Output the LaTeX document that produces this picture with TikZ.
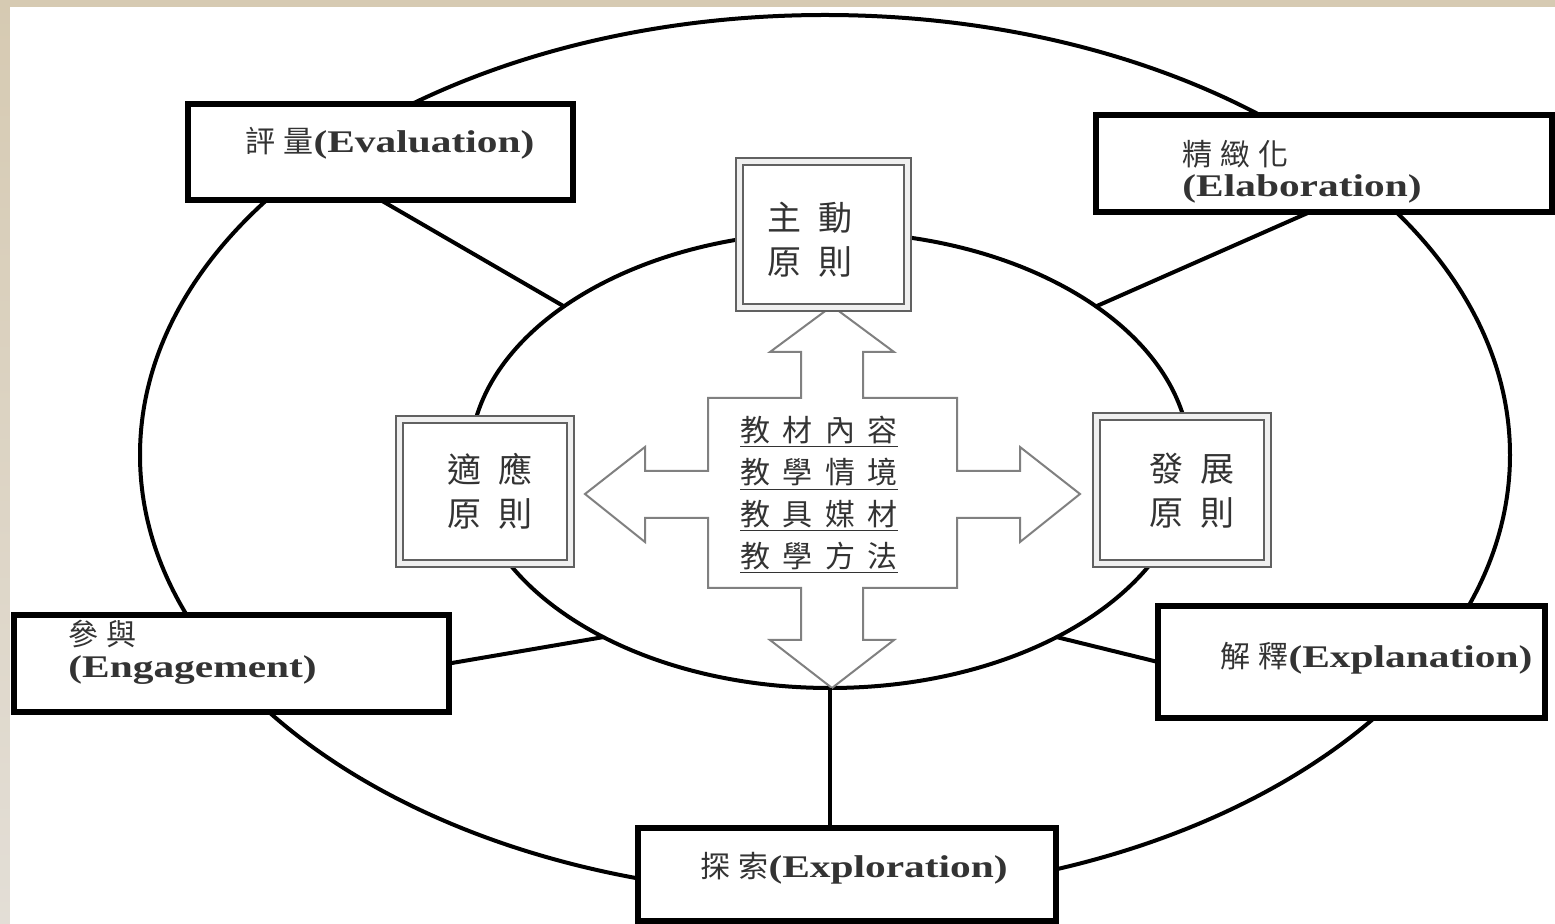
\documentclass[tikz,border=0pt]{standalone}
\usepackage{graphicx}
\usepackage{fontspec}
\setmainfont{Liberation Serif}
\newfontfamily\cjklbl[LetterSpace=27]{Noto Sans CJK TC}
\newfontfamily\cjkbig[LetterSpace=50]{Noto Sans CJK TC}
\newfontfamily\cjkmid[LetterSpace=42]{Noto Sans CJK TC}
\usetikzlibrary{shapes.geometric}
\newcommand{\entxt}[1]{\scalebox{1.38}[1.05]{\bfseries #1}}
\definecolor{paperA}{HTML}{D6CAB2}
\definecolor{paperB}{HTML}{E3DED6}
\definecolor{txtgray}{HTML}{333333}
\tikzset{
  ring/.style={ellipse, draw=black, line width=2pt, inner sep=0pt, outer sep=0pt},
  box/.style={rectangle, draw=black, line width=2.6pt, fill=white, inner sep=0pt, outer sep=0pt},
  dbox/.style={rectangle, draw=black!62, double=black!6, line width=1.3pt, double distance=2.2pt, fill=white, inner sep=0pt, outer sep=0pt},
  link/.style={draw=black, line width=2pt},
  crossarrow/.style={draw=black!50, line width=1pt, fill=white, line join=miter},
  lbl/.style={inner sep=0pt, text=txtgray, anchor=west, align=left, font=\fontsize{15pt}{16pt}\selectfont},
  principle/.style={inner sep=0pt, text=txtgray, align=center, font=\fontsize{17pt}{22pt}\cjkbig},
  content/.style={inner sep=0pt, text=txtgray, align=center, font=\fontsize{15pt}{21pt}\cjkmid}
}
\begin{document}
\begin{tikzpicture}[x=0.5pt,y=-0.5pt]
\useasboundingbox (0,0) rectangle (1555,924);
\shade[top color=paperA, bottom color=paperB] (0,0) rectangle (1555,924);
\fill[white] (10,7) rectangle (1555,924);

% ellipses
\node[ring, minimum width=685pt, minimum height=440pt] (outer) at (825,455) {};
\node[ring, minimum width=360pt, minimum height=228pt] (inner) at (830,460) {};

% central cross arrow
\draw[crossarrow] (832,306) -- (894,352) -- (863,352) -- (863,398) -- (957,398) -- (957,471)
  -- (1020,471) -- (1020,447) -- (1080,494) -- (1020,542) -- (1020,518) -- (957,518)
  -- (957,588) -- (863,588) -- (863,640) -- (894,640) -- (832,688) -- (770,640) -- (801,640)
  -- (801,588) -- (708,588) -- (708,518) -- (645,518) -- (645,542) -- (585,494) -- (645,447)
  -- (645,471) -- (708,471) -- (708,398) -- (801,398) -- (801,352) -- (770,352) -- cycle;

% outer boxes
\node[box, minimum width=192.5pt, minimum height=48pt] (eval) at (380.5,152) {};
\node[box, minimum width=228pt, minimum height=48.5pt] (elab) at (1324,163.5) {};
\node[box, minimum width=217.5pt, minimum height=48.5pt] (engage) at (231.5,663.5) {};
\node[box, minimum width=193.5pt, minimum height=56pt] (expl) at (1351.5,662) {};
\node[box, minimum width=209pt, minimum height=46.5pt] (explo) at (847,874.5) {};

% principle boxes
\node[dbox, minimum width=84pt, minimum height=73pt] (act) at (823.5,234.5) {};
\node[dbox, minimum width=85.5pt, minimum height=72pt] (adapt) at (485,491.5) {};
\node[dbox, minimum width=85.5pt, minimum height=73.5pt] (dev) at (1182,490) {};

% connectors
\draw[link] (eval.south) -- (inner.150);
\draw[link] ([xshift=-7pt]elab.south) -- (inner.30);
\draw[link] (engage.east) -- (inner.218);
\draw[link] (expl.west) -- (inner.-38);
\draw[link] (inner.south) -- (inner.south |- explo.north);

% labels
\node[lbl] (evalt) at (245,143) {{\cjklbl 評量}\entxt{(Evaluation)}};
\node[lbl, font=\fontsize{15pt}{15.5pt}\selectfont] (elabt) at (1182,172) {{\cjklbl 精緻化}\\\entxt{(Elaboration)}};
\node[lbl, font=\fontsize{15pt}{16pt}\selectfont] (engaget) at (68,652) {{\cjklbl 參與}\\\entxt{(Engagement)}};
\node[lbl] (explt) at (1220,658) {{\cjklbl 解釋}\entxt{(Explanation)}};
\node[lbl] (explot) at (700,868) {{\cjklbl 探索}\entxt{(Exploration)}};

\node[principle] (actt) at (810,240) {主動\\原則};
\node[principle] (adaptt) at (490,491) {適應\\原則};
\node[principle] (devt) at (1192,491) {發展\\原則};

\node[content] (ctext) at (819,495) {\underline{教材內容}\\\underline{教學情境}\\\underline{教具媒材}\\\underline{教學方法}};
\end{tikzpicture}
\end{document}
